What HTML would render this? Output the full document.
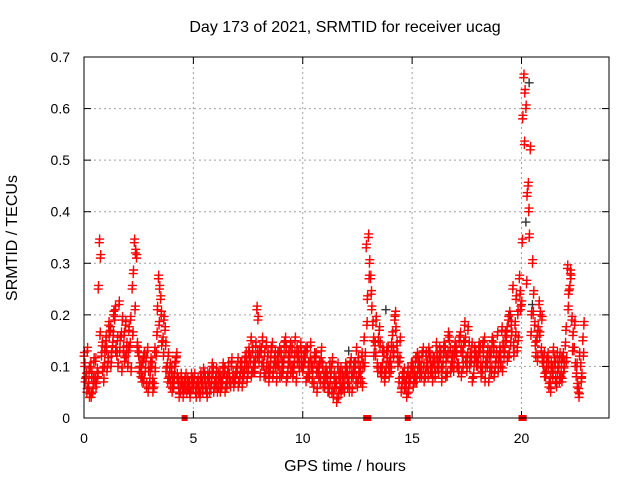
<!DOCTYPE html>
<html><head><meta charset="utf-8"><style>
html,body{margin:0;padding:0;background:#fff;}
svg{display:block;font-family:"Liberation Sans",sans-serif;}
</style></head><body>
<svg id="chart" width="640" height="480">
<text x="345" y="32" font-size="16" text-anchor="middle">Day 173 of 2021, SRMTID for receiver ucag</text>
<text x="345" y="471" font-size="16" text-anchor="middle">GPS time / hours</text>
<text transform="translate(17,238) rotate(-90)" font-size="16" text-anchor="middle">SRMTID / TECUs</text>
<g id="grid"></g>
<g id="ticks"></g>
<g id="marks"></g>
<rect x="84" y="57" width="525" height="361" fill="none" stroke="#000" stroke-width="1"/>
</svg>
<script>
const xTicks=[0,5,10,15,20];
const yTicks=[0,0.1,0.2,0.3,0.4,0.5,0.6,0.7];
const yTickLabels=["0","0.1","0.2","0.3","0.4","0.5","0.6","0.7"];
const seriesA=[0.12,0.08,0.06,0.10,0.05,0.07,0.09,0.34,0.12,0.07,
0.15,0.11,0.17,0.14,0.19,0.12,0.22,0.16,0.13,0.18,
0.10,0.14,0.25,0.34,0.31,0.12,0.08,0.11,0.09,0.13,
0.07,0.10,0.06,0.12,0.27,0.23,0.15,0.17,0.10,0.08,
0.09,0.06,0.11,0.07,0.05,0.06,0.07,0.05,0.06,0.08,
0.06,0.05,0.07,0.04,0.06,0.08,0.05,0.07,0.06,0.09,
0.07,0.05,0.08,0.06,0.09,0.07,0.10,0.06,0.08,0.07,
0.09,0.07,0.10,0.08,0.12,0.09,0.11,0.13,0.09,0.21,
0.11,0.13,0.10,0.08,0.12,0.09,0.14,0.11,0.07,0.10,
0.12,0.09,0.15,0.08,0.11,0.13,0.10,0.07,0.12,0.14,
0.09,0.11,0.13,0.08,0.10,0.06,0.12,0.09,0.07,0.10,
0.06,0.08,0.05,0.09,0.04,0.07,0.10,0.06,0.08,0.05,
0.09,0.07,0.11,0.08,0.10,0.06,0.09,0.12,0.15,0.33,
0.35,0.27,0.18,0.14,0.10,0.17,0.08,0.12,0.09,0.13,
0.11,0.16,0.19,0.14,0.07,0.05,0.08,0.06,0.09,0.07,
0.10,0.08,0.07,0.11,0.09,0.13,0.08,0.10,0.12,0.09,
0.11,0.14,0.09,0.12,0.10,0.13,0.08,0.15,0.11,0.09,
0.13,0.10,0.16,0.12,0.18,0.09,0.14,0.11,0.08,0.12,
0.10,0.13,0.09,0.15,0.11,0.07,0.12,0.14,0.10,0.16,
0.13,0.17,0.12,0.15,0.19,0.14,0.25,0.18,0.13,0.27,
0.22,0.66,0.60,0.45,0.52,0.30,0.18,0.15,0.22,0.13,
0.10,0.08,0.12,0.07,0.09,0.11,0.06,0.10,0.08,0.12,
0.14,0.29,0.25,0.19,0.13,0.08,0.05,0.10,0.15];
const seriesB=[0.07,0.13,0.04,0.08,0.11,0.06,0.25,0.31,0.09,0.13,
0.09,0.16,0.12,0.20,0.13,0.10,0.15,0.19,0.11,0.14,
0.17,0.09,0.28,0.32,0.13,0.10,0.07,0.12,0.06,0.09,
0.11,0.05,0.09,0.21,0.25,0.14,0.19,0.09,0.12,0.06,
0.07,0.10,0.08,0.04,0.07,0.05,0.08,0.06,0.04,0.07,
0.08,0.06,0.05,0.07,0.09,0.06,0.08,0.05,0.10,0.06,
0.09,0.06,0.07,0.10,0.05,0.08,0.07,0.11,0.06,0.09,
0.06,0.10,0.08,0.11,0.07,0.12,0.08,0.10,0.14,0.19,
0.08,0.15,0.12,0.10,0.07,0.13,0.09,0.10,0.12,0.08,
0.10,0.14,0.07,0.12,0.09,0.08,0.15,0.11,0.09,0.10,
0.12,0.07,0.10,0.14,0.09,0.11,0.05,0.10,0.13,0.08,
0.09,0.05,0.07,0.11,0.06,0.03,0.08,0.05,0.07,0.10,
0.06,0.10,0.05,0.09,0.13,0.08,0.07,0.10,0.12,0.23,
0.30,0.21,0.12,0.19,0.15,0.09,0.13,0.07,0.11,0.08,
0.14,0.12,0.17,0.10,0.15,0.08,0.06,0.04,0.07,0.10,
0.06,0.11,0.09,0.08,0.12,0.07,0.10,0.13,0.09,0.11,
0.08,0.10,0.13,0.07,0.14,0.11,0.16,0.09,0.12,0.14,
0.10,0.15,0.08,0.14,0.11,0.17,0.12,0.07,0.13,0.10,
0.14,0.08,0.12,0.10,0.13,0.09,0.15,0.08,0.12,0.11,
0.10,0.14,0.16,0.11,0.20,0.16,0.12,0.23,0.15,0.21,
0.58,0.63,0.43,0.35,0.20,0.24,0.12,0.17,0.20,0.11,
0.08,0.11,0.06,0.10,0.13,0.07,0.09,0.12,0.07,0.10,
0.11,0.24,0.27,0.16,0.10,0.06,0.12,0.08,0.18];
const seriesC=[0.10,0.05,0.09,0.04,0.07,0.11,0.08,0.16,0.14,0.10,
0.13,0.18,0.10,0.16,0.21,0.15,0.13,0.09,0.16,0.12,
0.13,0.19,0.16,0.21,0.14,0.09,0.10,0.07,0.11,0.05,
0.09,0.07,0.13,0.16,0.18,0.20,0.12,0.14,0.07,0.10,
0.05,0.08,0.12,0.06,0.08,0.04,0.06,0.07,0.05,0.06,
0.07,0.04,0.06,0.08,0.05,0.07,0.04,0.08,0.07,0.05,
0.06,0.08,0.05,0.07,0.09,0.06,0.08,0.10,0.07,0.08,
0.11,0.08,0.06,0.09,0.10,0.13,0.15,0.09,0.11,0.12,
0.13,0.10,0.08,0.14,0.09,0.11,0.08,0.12,0.10,0.13,
0.08,0.11,0.13,0.10,0.14,0.09,0.12,0.13,0.10,0.12,
0.10,0.13,0.08,0.11,0.07,0.12,0.09,0.08,0.11,0.06,
0.08,0.07,0.10,0.05,0.08,0.06,0.04,0.09,0.06,0.08,
0.08,0.05,0.08,0.10,0.07,0.11,0.09,0.06,0.10,0.18,
0.27,0.24,0.15,0.12,0.09,0.14,0.10,0.08,0.13,0.10,
0.09,0.13,0.20,0.12,0.11,0.06,0.09,0.07,0.05,0.08,
0.09,0.07,0.12,0.10,0.08,0.10,0.12,0.08,0.11,0.07,
0.10,0.12,0.11,0.09,0.13,0.08,0.12,0.13,0.10,0.12,
0.12,0.09,0.13,0.10,0.15,0.12,0.10,0.14,0.10,0.11,
0.12,0.10,0.14,0.07,0.10,0.12,0.09,0.13,0.11,0.09,
0.12,0.09,0.13,0.17,0.12,0.18,0.14,0.16,0.20,0.24,
0.34,0.53,0.26,0.40,0.16,0.20,0.14,0.11,0.16,0.19,
0.12,0.09,0.10,0.05,0.08,0.10,0.12,0.07,0.11,0.09,
0.17,0.21,0.28,0.13,0.18,0.10,0.04,0.07,0.12];
const blackTimes=[12.1,12.4,13.5,13.8,19.5,20.2,20.35,20.5];
const blackValues=[0.13,0.11,0.17,0.21,0.20,0.38,0.65,0.22];
const gapTimes=[4.6,12.9,13.0,14.8,20.0,20.1];

const NS="http://www.w3.org/2000/svg";
const X=t=>84+t*(525/24);
const Y=v=>418-v*(361/0.7);
function mk(tag,attrs,parent){const e=document.createElementNS(NS,tag);for(const k in attrs)e.setAttribute(k,attrs[k]);parent.appendChild(e);return e;}
const grid=document.getElementById('grid'),ticks=document.getElementById('ticks'),marks=document.getElementById('marks');
xTicks.forEach((t,i)=>{
  const x=X(t);
  if(t>0){const g=mk('line',{x1:x,x2:x,y1:57,y2:418,stroke:'#a0a0a0','stroke-dasharray':'2,3'},grid);
  
  }
  mk('line',{x1:x,x2:x,y1:418,y2:411,stroke:'#000'},ticks);
  mk('line',{x1:x,x2:x,y1:57,y2:64,stroke:'#000'},ticks);
  const l=mk('text',{x:x,y:443,'font-size':14,'text-anchor':'middle'},ticks);
  l.textContent=String(t);
  
  
});
yTicks.forEach((v,i)=>{
  const y=Y(v);
  if(v>0&&v<0.7){const g=mk('line',{x1:84,x2:609,y1:y,y2:y,stroke:'#a0a0a0','stroke-dasharray':'2,3'},grid);
  
  }
  mk('line',{x1:84,x2:91,y1:y,y2:y,stroke:'#000'},ticks);
  mk('line',{x1:602,x2:609,y1:y,y2:y,stroke:'#000'},ticks);
  const l=mk('text',{x:70,y:y+5,'font-size':14,'text-anchor':'end'},ticks);
  l.textContent=yTickLabels[i];
  
  
});
function plus(t,v,color){
  const x=X(t),y=Y(v);
  const p=mk('path',{d:`M${x-4.5},${y}H${x+4.5}M${x},${y-4.5}V${y+4.5}`,stroke:color,'stroke-width':1.4,fill:'none'},marks);
  
  
}
blackTimes.forEach((t,i)=>plus(t,blackValues[i],'#333'));
[seriesA,seriesB,seriesC].forEach((s,k)=>{
  s.forEach((v,i)=>{
    const t=i/10+[0,0.05,0.03][k];
    plus(t,v,'#ff0000');
    plus(t+0.015,v+0.007,'#ff0000');
  });
});
gapTimes.forEach(t=>{
  const r=mk('rect',{x:X(t)-3,y:415,width:6,height:6,fill:'#ff0000'},marks);
  
  
});
</script>
</body></html>
